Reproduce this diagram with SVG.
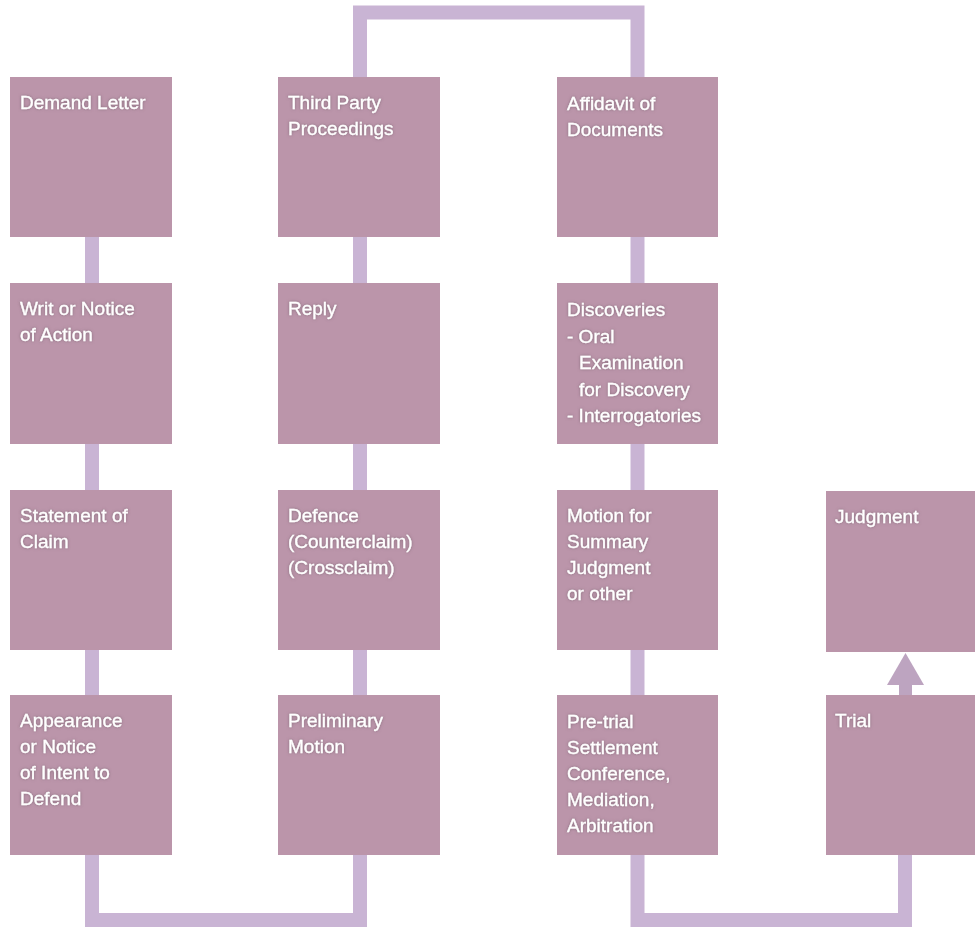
<svg xmlns="http://www.w3.org/2000/svg" width="975" height="928" viewBox="0 0 975 928">
<defs>
<style>
.box{fill:#bb95aa}
.conn{fill:none;stroke:#c9b4d4;stroke-width:14;stroke-linejoin:miter}
.lbl{font-family:"Liberation Sans",Arial,sans-serif;font-size:19px;fill:#ffffff;stroke:#ffffff;stroke-width:0.3;filter:url(#sh)}
</style>
<filter id="sh" x="-10%" y="-30%" width="120%" height="160%">
<feDropShadow dx="0" dy="0" stdDeviation="1.6" flood-color="#6e5866" flood-opacity="0.7"/>
</filter>
</defs>
<rect width="975" height="928" fill="#ffffff"/>
<g id="connectors">
<path class="conn" d="M92 855 V920 H360 V855"/>
<path class="conn" d="M360 77 V12.5 H637.5 V77"/>
<path class="conn" d="M637.5 855 V920 H905 V855"/>
<line class="conn" x1="92" y1="237" x2="92" y2="283"/>
<line class="conn" x1="92" y1="444" x2="92" y2="490"/>
<line class="conn" x1="92" y1="650" x2="92" y2="695"/>
<line class="conn" x1="360" y1="237" x2="360" y2="283"/>
<line class="conn" x1="360" y1="444" x2="360" y2="490"/>
<line class="conn" x1="360" y1="650" x2="360" y2="695"/>
<line class="conn" x1="637.5" y1="237" x2="637.5" y2="283"/>
<line class="conn" x1="637.5" y1="444" x2="637.5" y2="490"/>
<line class="conn" x1="637.5" y1="650" x2="637.5" y2="695"/>
<g id="arrow-trial-judgment">
<rect x="899" y="683" width="13" height="13" fill="#bda4c0"/>
<polygon points="887,685 924,685 905.5,653" fill="#bda4c0"/>
</g>
</g>
<g id="demand-letter"><rect class="box" x="10" y="77" width="162" height="160"/><text class="lbl" x="20" y="109">Demand Letter</text></g>
<g id="writ"><rect class="box" x="10" y="283" width="162" height="161"/><text class="lbl" x="20" y="315"><tspan x="20">Writ or Notice</tspan><tspan x="20" dy="26">of Action</tspan></text></g>
<g id="statement-of-claim"><rect class="box" x="10" y="490" width="162" height="160"/><text class="lbl" x="20" y="522"><tspan x="20">Statement of</tspan><tspan x="20" dy="26">Claim</tspan></text></g>
<g id="appearance"><rect class="box" x="10" y="695" width="162" height="160"/><text class="lbl" x="20" y="727"><tspan x="20">Appearance</tspan><tspan x="20" dy="26">or Notice</tspan><tspan x="20" dy="26">of Intent to</tspan><tspan x="20" dy="26">Defend</tspan></text></g>
<g id="third-party"><rect class="box" x="278" y="77" width="162" height="160"/><text class="lbl" x="288" y="109"><tspan x="288">Third Party</tspan><tspan x="288" dy="26">Proceedings</tspan></text></g>
<g id="reply"><rect class="box" x="278" y="283" width="162" height="161"/><text class="lbl" x="288" y="315">Reply</text></g>
<g id="defence"><rect class="box" x="278" y="490" width="162" height="160"/><text class="lbl" x="288" y="522"><tspan x="288">Defence</tspan><tspan x="288" dy="26">(Counterclaim)</tspan><tspan x="288" dy="26">(Crossclaim)</tspan></text></g>
<g id="preliminary-motion"><rect class="box" x="278" y="695" width="162" height="160"/><text class="lbl" x="288" y="727"><tspan x="288">Preliminary</tspan><tspan x="288" dy="26">Motion</tspan></text></g>
<g id="affidavit"><rect class="box" x="557" y="77" width="161" height="160"/><text class="lbl" x="567" y="110"><tspan x="567">Affidavit of</tspan><tspan x="567" dy="26">Documents</tspan></text></g>
<g id="discoveries"><rect class="box" x="557" y="283" width="161" height="161"/><text class="lbl" x="567" y="316"><tspan x="567">Discoveries</tspan><tspan x="567" dy="26.5">- Oral</tspan><tspan x="579" dy="26.5">Examination</tspan><tspan x="579" dy="26.5">for Discovery</tspan><tspan x="567" dy="26.5">- Interrogatories</tspan></text></g>
<g id="summary-judgment"><rect class="box" x="557" y="490" width="161" height="160"/><text class="lbl" x="567" y="522"><tspan x="567">Motion for</tspan><tspan x="567" dy="26">Summary</tspan><tspan x="567" dy="26">Judgment</tspan><tspan x="567" dy="26">or other</tspan></text></g>
<g id="pre-trial"><rect class="box" x="557" y="695" width="161" height="160"/><text class="lbl" x="567" y="728"><tspan x="567">Pre-trial</tspan><tspan x="567" dy="26">Settlement</tspan><tspan x="567" dy="26">Conference,</tspan><tspan x="567" dy="26">Mediation,</tspan><tspan x="567" dy="26">Arbitration</tspan></text></g>
<g id="judgment"><rect class="box" x="826" y="491" width="149" height="161"/><text class="lbl" x="835" y="523">Judgment</text></g>
<g id="trial"><rect class="box" x="826" y="695" width="149" height="160"/><text class="lbl" x="835" y="727">Trial</text></g>
</svg>
